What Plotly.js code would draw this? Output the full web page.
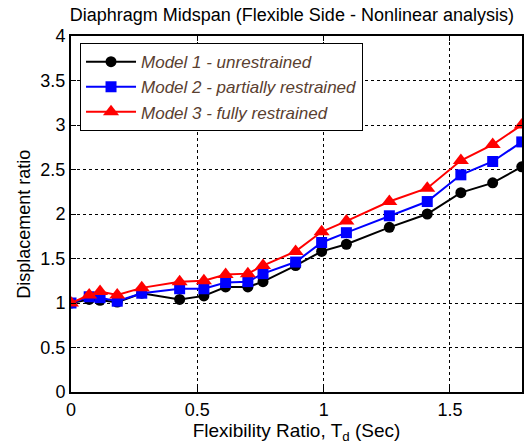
<!DOCTYPE html>
<html>
<head>
<meta charset="utf-8">
<script src="https://cdn.plot.ly/plotly-3.0.1.min.js"></script>
<style>html,body{margin:0;padding:0;background:#fff;}#chart{width:524px;height:447px;}</style>
</head>
<body>
<div id="chart"></div>
<script>
const flexRatio = [0, 0.072, 0.115, 0.183, 0.28, 0.43, 0.526, 0.612, 0.70, 0.76, 0.889, 0.992, 1.09, 1.26, 1.41, 1.543, 1.669, 1.784];
const model1 = [1.0, 1.04, 1.03, 1.01, 1.11, 1.04, 1.08, 1.18, 1.18, 1.24, 1.42, 1.58, 1.66, 1.85, 2.0, 2.24, 2.35, 2.53];
const model2 = [1.0, 1.07, 1.06, 1.02, 1.11, 1.16, 1.16, 1.23, 1.24, 1.33, 1.46, 1.68, 1.79, 1.98, 2.14, 2.44, 2.59, 2.81];
const model3 = [1.0, 1.09, 1.13, 1.09, 1.17, 1.24, 1.25, 1.32, 1.33, 1.42, 1.58, 1.80, 1.92, 2.14, 2.29, 2.60, 2.78, 3.0];
const seriesNames = ['Model 1 - unrestrained', 'Model 2 - partially restrained', 'Model 3 - fully restrained'];
const xTicks = [0, 0.5, 1, 1.5];
const yTicks = [0, 0.5, 1, 1.5, 2, 2.5, 3, 3.5, 4];

const font = 'Arial, "Liberation Sans", sans-serif';
const traces = [
  {x: flexRatio, y: model1, name: seriesNames[0], mode: 'lines+markers', line: {color: '#000000', width: 2}, marker: {symbol: 'circle', size: 11, color: '#000000'}},
  {x: flexRatio, y: model2, name: seriesNames[1], mode: 'lines+markers', line: {color: '#0000ff', width: 2}, marker: {symbol: 'square', size: 11, color: '#0000ff'}},
  {x: flexRatio, y: model3, name: seriesNames[2], mode: 'lines+markers', line: {color: '#ff0000', width: 2}, marker: {symbol: 'triangle-up', size: 14, color: '#ff0000'}}
];

const axisCommon = {
  showline: true, linecolor: '#000', linewidth: 2, mirror: 'ticks',
  ticks: 'inside', ticklen: 5, tickcolor: '#000', tickwidth: 1,
  showgrid: true, gridcolor: '#000', griddash: 'dot', gridwidth: 1,
  zeroline: false, tickfont: {family: font, size: 18, color: '#000'}
};

const layout = {
  width: 524, height: 447,
  margin: {l: 71, r: 2, t: 36, b: 55},
  paper_bgcolor: '#fff', plot_bgcolor: '#fff',
  title: {text: 'Diaphragm Midspan (Flexible Side - Nonlinear analysis)', font: {family: font, size: 18, color: '#000'}, x: 0.557, xanchor: 'center', y: 0.966, yanchor: 'middle'},
  xaxis: Object.assign({}, axisCommon, {range: [0, 1.785], tickvals: xTicks, ticktext: xTicks.map(String),
    title: {text: 'Flexibility Ratio, T<sub>d</sub> (Sec)', font: {family: font, size: 19, color: '#000'}, standoff: 0}}),
  yaxis: Object.assign({}, axisCommon, {range: [0, 4], tickvals: yTicks, ticktext: yTicks.map(String)}),
  annotations: [{text: 'Displacement ratio', xref: 'paper', yref: 'paper', x: -0.104, y: 0.47, xanchor: 'center', yanchor: 'middle',
    textangle: -90, showarrow: false, font: {family: font, size: 18, color: '#000'}}],
  showlegend: true,
  legend: {x: 0.02, y: 0.98, xanchor: 'left', yanchor: 'top', bgcolor: '#fff', bordercolor: '#000', borderwidth: 1,
    font: {family: font, size: 17, color: '#5a4030', style: 'italic'}, itemwidth: 50, tracegroupgap: 0}
};

Plotly.newPlot('chart', traces, layout, {displayModeBar: false, staticPlot: true});
</script>
</body>
</html>
